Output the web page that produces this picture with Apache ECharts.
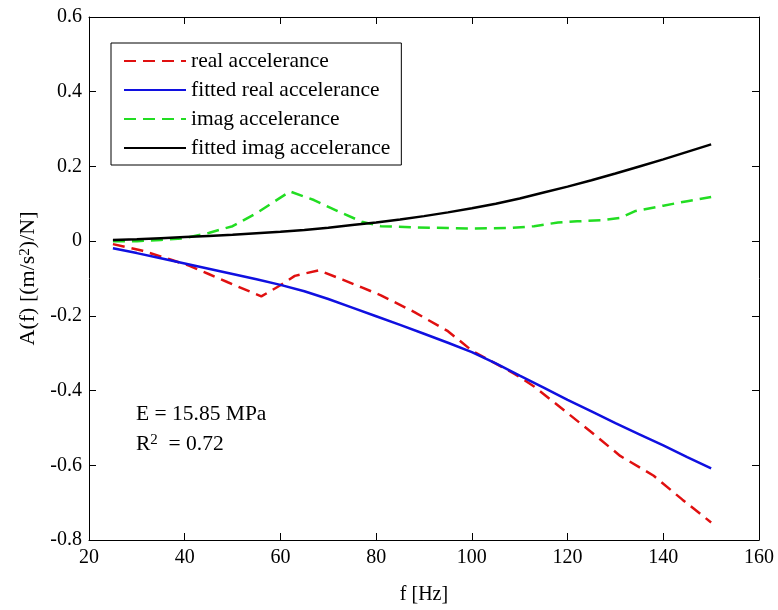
<!DOCTYPE html>
<html>
<head>
<meta charset="utf-8">
<script src="https://cdn.jsdelivr.net/npm/echarts@6/dist/echarts.min.js"></script>
<style>
html,body{margin:0;padding:0;background:#fff;}
#main{width:778px;height:610px;}
</style>
</head>
<body>
<div id="main"></div>
<script>
// Data
const seriesNames = ['real accelerance','fitted real accelerance','imag accelerance','fitted imag accelerance'];
const freqReal = [25,31,37,41,45,49,56,60,63,68,73,77,81,88,95,100,109,113,119,126,131,138,144,150];
const realAcc  = [-0.008,-0.025,-0.049,-0.066,-0.088,-0.110,-0.148,-0.118,-0.093,-0.078,-0.103,-0.124,-0.145,-0.190,-0.241,-0.293,-0.356,-0.389,-0.450,-0.522,-0.575,-0.628,-0.692,-0.753];
const freqImag = [25,30,35,40,45,50,55,62,67,72,77,81,88,95,100,108,113,118,122,127,131,134,140,145,150];
const imagAcc  = [0.000,0.000,0.003,0.008,0.022,0.040,0.075,0.133,0.110,0.080,0.052,0.040,0.037,0.035,0.034,0.035,0.040,0.050,0.053,0.056,0.062,0.080,0.095,0.107,0.118];
const freqFit  = [25,30,35,40,45,50,55,60,65,70,75,80,85,90,95,100,105,110,115,120,125,130,135,140,145,150];
const fitReal  = [-0.019,-0.032,-0.046,-0.060,-0.074,-0.088,-0.102,-0.117,-0.134,-0.155,-0.178,-0.201,-0.224,-0.248,-0.272,-0.297,-0.327,-0.360,-0.392,-0.425,-0.456,-0.487,-0.517,-0.547,-0.578,-0.608];
const fitImag  = [0.003,0.005,0.008,0.011,0.014,0.017,0.021,0.025,0.030,0.036,0.043,0.050,0.058,0.067,0.077,0.088,0.100,0.114,0.130,0.146,0.163,0.181,0.200,0.219,0.239,0.259];
const xTicks = [20,40,60,80,100,120,140,160];
const yTicks = [-0.8,-0.6,-0.4,-0.2,0,0.2,0.4,0.6];
const annotE = 'E = 15.85 MPa';
const annotR = ['R', '2', '  = 0.72'];
const yName = ['A(f) [(m/s', '2', ')/N]'];

const zip = (xs, ys) => xs.map((x, i) => [x, ys[i]]);
const FONT = '"Liberation Serif", "Times New Roman", serif';

const chart = echarts.init(document.getElementById('main'), null, {renderer: 'canvas'});
const axisLine = {show: true, onZero: false, lineStyle: {color: '#000', width: 1}};
const tick = {show: true, inside: true, length: 7, lineStyle: {color: '#000', width: 1}};

function line(name, data, color, dashed) {
  return {
    name: name, type: 'line', data: data, symbol: 'none', smooth: false,
    xAxisIndex: 0, yAxisIndex: 0,
    lineStyle: {color: color, width: 2.5, type: dashed ? [12, 7] : 'solid', cap: 'butt'},
    itemStyle: {color: color},
    emphasis: {disabled: true},
    animation: false
  };
}

chart.setOption({
  backgroundColor: '#fff',
  animation: false,
  grid: {left: 89, right: 19, top: 17, bottom: 65, containLabel: false},
  xAxis: [
    {type: 'value', min: xTicks[0], max: xTicks[xTicks.length-1], interval: 20, position: 'bottom',
     name: 'f [Hz]', nameLocation: 'middle', nameGap: 45,
     nameTextStyle: {fontFamily: FONT, fontSize: 20, color: '#000'},
     axisLine: axisLine, axisTick: tick, splitLine: {show: false},
     axisLabel: {fontFamily: FONT, fontSize: 20, color: '#000', margin: 8}},
    {type: 'value', min: xTicks[0], max: xTicks[xTicks.length-1], interval: 20, position: 'top',
     axisLine: axisLine, axisTick: tick, splitLine: {show: false}, axisLabel: {show: false}}
  ],
  yAxis: [
    {type: 'value', min: yTicks[0], max: yTicks[yTicks.length-1], interval: 0.2, position: 'left',
     name: '{a|' + yName[0] + '}{s|' + yName[1] + '}{a|' + yName[2] + '}',
     nameLocation: 'middle', nameGap: 44, nameRotate: 90,
     nameTextStyle: {fontFamily: FONT, fontSize: 22, color: '#000',
       rich: {a: {fontFamily: FONT, fontSize: 22, color: '#000', verticalAlign: 'bottom'},
              s: {fontFamily: FONT, fontSize: 15, color: '#000', verticalAlign: 'top'}}},
     axisLine: axisLine, axisTick: tick, splitLine: {show: false},
     axisLabel: {fontFamily: FONT, fontSize: 20, color: '#000', margin: 7,
       formatter: v => (Math.round(v * 10) / 10).toString()}},
    {type: 'value', min: yTicks[0], max: yTicks[yTicks.length-1], interval: 0.2, position: 'right',
     axisLine: axisLine, axisTick: tick, splitLine: {show: false}, axisLabel: {show: false}}
  ],
  legend: {
    show: true, orient: 'vertical', left: 111, top: 43,
    data: seriesNames,
    backgroundColor: '#fff', borderColor: '#000', borderWidth: 1,
    padding: [7, 11, 6, 12],
    itemWidth: 62, itemHeight: 14, itemGap: 7, itemStyle: {opacity: 0},
    textStyle: {fontFamily: FONT, fontSize: 21.5, color: '#000', lineHeight: 21.5},
    selectedMode: false
  },
  graphic: [
    {type: 'text', left: 136, top: 403, style: {text: annotE, font: '21.5px ' + FONT, fill: '#000'}},
    {type: 'text', left: 136, top: 433, style: {
      text: '{a|' + annotR[0] + '}{s|' + annotR[1] + '}{a|' + annotR[2] + '}',
      rich: {a: {fontFamily: FONT, fontSize: 21.5, fill: '#000', verticalAlign: 'bottom'},
             s: {fontFamily: FONT, fontSize: 15, fill: '#000', verticalAlign: 'top'}}}}
  ],
  series: [
    line(seriesNames[0], zip(freqReal, realAcc), '#e01010', true),
    line(seriesNames[1], zip(freqFit, fitReal), '#1010e0', false),
    line(seriesNames[2], zip(freqImag, imagAcc), '#22dd22', true),
    line(seriesNames[3], zip(freqFit, fitImag), '#000000', false)
  ]
});
</script>
</body>
</html>
